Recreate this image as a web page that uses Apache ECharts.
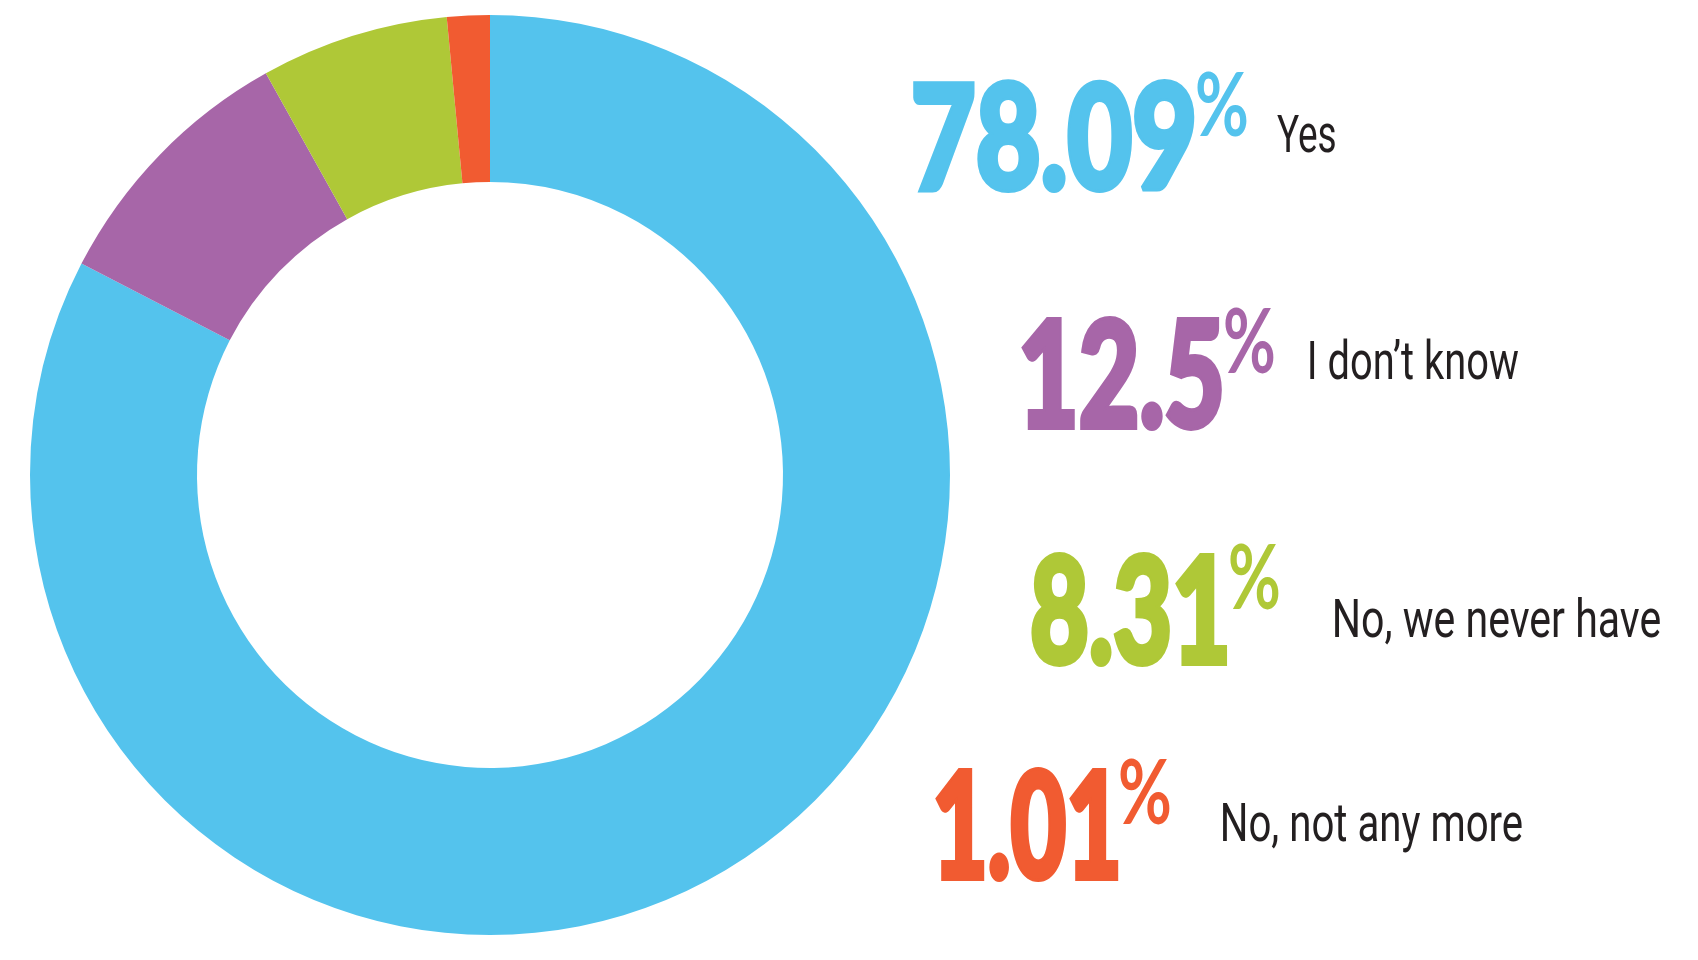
<!DOCTYPE html>
<html>
<head>
<meta charset="utf-8">
<script src="https://cdn.jsdelivr.net/npm/echarts@6/dist/echarts.min.js"></script>
<style>
html,body{margin:0;padding:0;background:#ffffff;}
#chart{width:1698px;height:960px;}
</style>
</head>
<body>
<div id="chart"></div>
<script>
// ---- data ----
const categories = ['Yes', 'I don\u2019t know', 'No, we never have', 'No, not any more'];
const percentLabels = ['78.09', '12.5', '8.31', '1.01'];
// slice shares as drawn in the reference ring (measured from the slice angles)
const sliceShares = [82.6, 9.3, 6.6, 1.5];
const colors = ['#54C3ED', '#A766A8', '#AFC837', '#F15B31'];

// ---- layout (ink boxes of the texts) ----
const rowLayout = [
  { num: [913, 1195, 80, 193],  pct: [1197, 1247, 72, 137],  lab: [1277, 1335, 152, 37] },
  { num: [1021, 1222, 317, 431], pct: [1225, 1274, 308, 374], lab: [1310, 1518, 379, 38] },
  { num: [1031, 1228, 553, 667], pct: [1230, 1279, 544, 610], lab: [1335, 1660, 637, 38] },
  { num: [935, 1119, 768, 882],  pct: [1120, 1170, 759, 825], lab: [1223, 1522, 841, 38] }
];
const numFont = s => '900 ' + s + 'px Lato';
const pctFont = s => '700 ' + s + 'px Lato';
const labFont = s => '400 ' + s + 'px Roboto';
const labelColor = '#231F20';

const mctx = document.createElement('canvas').getContext('2d');

function fitBox(text, fontTpl, box, fill, lw) {
  const [left, right, top, bottom] = box;
  mctx.font = fontTpl(100);
  mctx.textAlign = 'left';
  mctx.textBaseline = 'middle';
  const m = mctx.measureText(text);
  const inkH = m.actualBoundingBoxAscent + m.actualBoundingBoxDescent;
  const k = (bottom - top - lw) / inkH;
  const L = m.actualBoundingBoxLeft * k, R = m.actualBoundingBoxRight * k;
  const sx = (right - left) / (L + R + lw);
  const style = { text: text, font: fontTpl(100 * k), fill: fill, align: 'left', verticalAlign: 'middle' };
  if (lw > 0) { style.stroke = fill; style.lineWidth = lw; style.lineJoin = 'round'; }
  return {
    type: 'text', silent: true,
    x: left + (L + lw / 2) * sx, y: top + lw / 2 + m.actualBoundingBoxAscent * k, scaleX: sx,
    style: style
  };
}

function fitLabel(text, fontTpl, box, fill) {
  const [left, right, baseline, cap] = box;
  mctx.font = fontTpl(100);
  mctx.textAlign = 'left';
  mctx.textBaseline = 'middle';
  const h = mctx.measureText('H');
  const capH = h.actualBoundingBoxAscent + h.actualBoundingBoxDescent;
  const k = cap / capH;
  const m = mctx.measureText(text);
  const L = m.actualBoundingBoxLeft * k, R = m.actualBoundingBoxRight * k;
  const sx = (right - left) / (L + R);
  return {
    type: 'text', silent: true,
    x: left + L * sx, y: baseline - h.actualBoundingBoxDescent * k, scaleX: sx,
    style: { text: text, font: fontTpl(100 * k), fill: fill, align: 'left', verticalAlign: 'middle' }
  };
}

function draw() {
  const chart = echarts.init(document.getElementById('chart'), null, { renderer: 'canvas' });
  const graphics = [];
  categories.forEach((c, i) => {
    const lay = rowLayout[i];
    graphics.push(fitBox(percentLabels[i], numFont, lay.num, colors[i], 6));
    graphics.push(fitBox('%', pctFont, lay.pct, colors[i], 0));
    graphics.push(fitLabel(c, labFont, lay.lab, labelColor));
  });
  chart.setOption({
    animation: false,
    backgroundColor: '#ffffff',
    series: [{
      type: 'pie',
      center: [490, 475],
      radius: [293, 460],
      startAngle: 90,
      clockwise: true,
      silent: true,
      label: { show: false },
      labelLine: { show: false },
      emphasis: { disabled: true },
      itemStyle: { borderWidth: 0 },
      data: categories.map((c, i) => ({ name: c, value: sliceShares[i], itemStyle: { color: colors[i] } }))
    }],
    graphic: graphics
  });
}

const fontsToLoad = [numFont(100), pctFont(100), labFont(100)];
Promise.all(fontsToLoad.map(f => document.fonts.load(f).catch(() => null)))
  .then(draw, draw);
</script>
</body>
</html>
